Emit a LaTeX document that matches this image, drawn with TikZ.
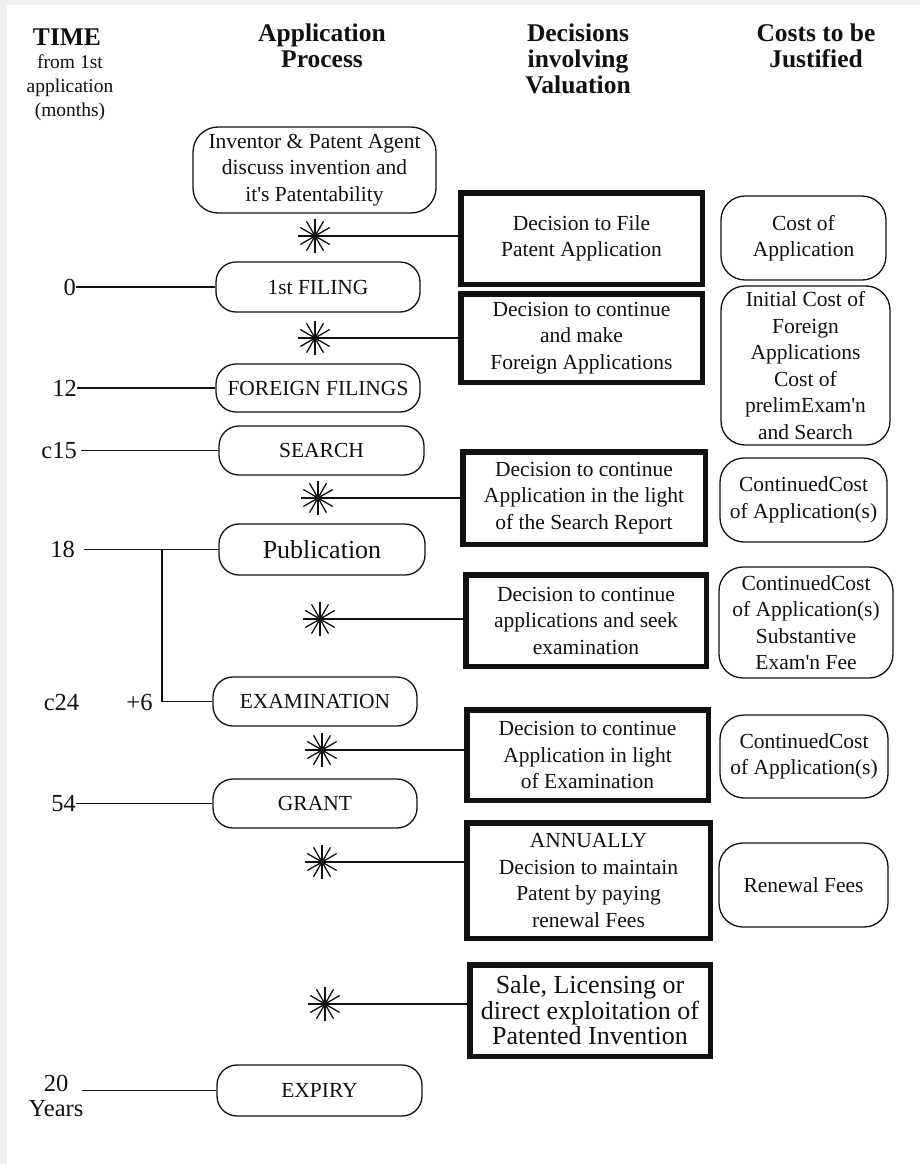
\documentclass[tikz,border=0pt]{standalone}
\usepackage{fontspec}
\setmainfont[Ligatures=TeXOff]{Liberation Serif}
\usetikzlibrary{calc}
\definecolor{bggray}{HTML}{F0F0F0}
\definecolor{ink}{HTML}{111111}
\begin{document}
\begin{tikzpicture}[x=1pt,y=-1pt,
  body/.style={font=\fontsize{21.5}{26.5}\selectfont, align=center, inner sep=0pt, text=ink},
  proc/.style={body, draw=ink, line width=1.3pt, rounded corners=20pt},
  dec/.style={body, draw=ink, line width=5.5pt},
  cost/.style={body, draw=ink, line width=1.3pt, rounded corners=24pt},
  hdr/.style={font=\bfseries\fontsize{25.5}{26}\selectfont, align=center, inner sep=0pt, text=ink},
  sub/.style={font=\fontsize{19.5}{24}\selectfont, align=center, inner sep=0pt, text=ink},
  tlab/.style={font=\fontsize{24.5}{25}\selectfont, align=center, inner sep=0pt, text=ink},
  tline/.style={draw=ink, line width=1.3pt},
  conn/.style={draw=ink, line width=1.8pt},
  astk/.style={circle, minimum size=38pt, inner sep=0pt, path picture={
    \foreach \a in {0,30,...,150}{\draw[ink, line width=1.3pt]
      ($(path picture bounding box.center)+(\a:17pt)$) -- ($(path picture bounding box.center)+(\a+180:17pt)$);}
    \fill[ink] (path picture bounding box.center) circle (3.5pt);}}
]
\useasboundingbox (0,0) rectangle (920,1164);
\fill[bggray] (0,0) rectangle (920,1164);
\fill[white] (7,5) rectangle (920,1164);

% headers
\node[hdr] (hTime) at (67,37) {TIME};
\node[sub] (hFrom) at (70,88) {from 1st\\application\\(months)};
\node[hdr] (hApp) at (322,46) {Application\\Process};
\node[hdr] (hDec) at (578,59) {Decisions\\involving\\Valuation};
\node[hdr] (hCost) at (816,46) {Costs to be\\Justified};

% process column
\node[proc, rounded corners=25pt, minimum width=243pt, minimum height=86pt] (inv) at (314.5,170) {Inventor \& Patent Agent\\discuss invention and\\it's Patentability};
\node[proc, minimum width=204pt, minimum height=50pt] (fil) at (318,287) {1st FILING};
\node[proc, minimum width=204pt, minimum height=48pt] (for) at (318,388) {FOREIGN FILINGS};
\node[proc, minimum width=205pt, minimum height=49pt] (sea) at (321.5,450.5) {SEARCH};
\node[proc, minimum width=206pt, minimum height=51pt, font=\fontsize{26}{28}\selectfont] (pub) at (322,549.5) {Publication};
\node[proc, minimum width=204pt, minimum height=49pt] (exa) at (315,701.5) {EXAMINATION};
\node[proc, minimum width=204pt, minimum height=49pt] (gra) at (315,803.5) {GRANT};
\node[proc, minimum width=205pt, minimum height=51pt] (exp) at (319.5,1090.5) {EXPIRY};

% decision column
\node[dec, minimum width=241.5pt, minimum height=91.5pt] (d1) at (581.5,238.5) {Decision to File\\Patent Application};
\node[dec, minimum width=241.5pt, minimum height=88.5pt] (d2) at (581.5,338) {Decision to continue\\and make\\Foreign Applications};
\node[dec, minimum width=242.5pt, minimum height=92.5pt] (d3) at (584,498) {Decision to continue\\Application in the light\\of the Search Report};
\node[dec, minimum width=240.5pt, minimum height=91.5pt] (d4) at (586,620.5) {Decision to continue\\applications and seek\\examination};
\node[dec, minimum width=241.5pt, minimum height=90.5pt] (d5) at (587.5,755) {Decision to continue\\Application in light\\of Examination};
\node[dec, minimum width=243.5pt, minimum height=115.5pt] (d6) at (588.5,880.5) {ANNUALLY\\Decision to maintain\\Patent by paying\\renewal Fees};
\node[dec, minimum width=240.5pt, minimum height=91.5pt, font=\fontsize{26}{25.5}\selectfont] (d7) at (590,1010.5) {Sale, Licensing or\\direct exploitation of\\Patented Invention};

% cost column
\node[cost, minimum width=165pt, minimum height=84pt] (c1) at (803.5,238) {Cost of\\Application};
\node[cost, minimum width=169pt, minimum height=159pt] (c2) at (805.5,365.5) {Initial Cost of\\Foreign\\Applications\\Cost of\\prelimExam'n\\and Search};
\node[cost, minimum width=167pt, minimum height=84pt] (c3) at (803.5,500) {ContinuedCost\\of Application(s)};
\node[cost, minimum width=174pt, minimum height=111pt] (c4) at (806,622.5) {ContinuedCost\\of Application(s)\\Substantive\\Exam'n Fee};
\node[cost, minimum width=168pt, minimum height=83pt] (c5) at (804,756.5) {ContinuedCost\\of Application(s)};
\node[cost, minimum width=169pt, minimum height=84pt] (c6) at (803.5,885) {Renewal Fees};

% asterisks and connectors
\node[astk] (s1) at (315,236) {};
\node[astk] (s2) at (315,338) {};
\node[astk] (s3) at (318,498) {};
\node[astk] (s4) at (320,619) {};
\node[astk] (s5) at (322,750) {};
\node[astk] (s6) at (322,862) {};
\node[astk] (s7) at (325,1004) {};
\foreach \i in {1,...,7}{\draw[conn] (s\i.center) -- (s\i.center -| d\i.west);}

% time labels
\node[tlab, anchor=east] (t0) at (76,287) {0};
\node[tlab, anchor=east] (t12) at (77,388) {12};
\node[tlab, anchor=east] (t15) at (77,450.5) {c15};
\node[tlab, anchor=east] (t18) at (75,549.5) {18};
\node[tlab] (t24) at (61.5,702) {c24};
\node[tlab] (p6) at (139.5,702) {+6};
\node[tlab, anchor=east] (t54) at (76,803.5) {54};
\node[tlab] (t20) at (56,1096) {20\\Years};
\coordinate (br) at (162,549.5);
\coordinate (e20) at (82,1090.5);

\draw[tline] (t0.east) -- (fil.west);
\draw[tline] (t12.east) -- (for.west);
\draw[tline] ([xshift=4pt]t15.east) -- (sea.west);
\draw[tline] ([xshift=9pt]t18.east) -- (pub.west);
\draw[tline] (br) |- (exa.west);
\draw[tline] (t54.east) -- (gra.west);
\draw[tline] (e20) -- (exp.west);
\end{tikzpicture}
\end{document}
